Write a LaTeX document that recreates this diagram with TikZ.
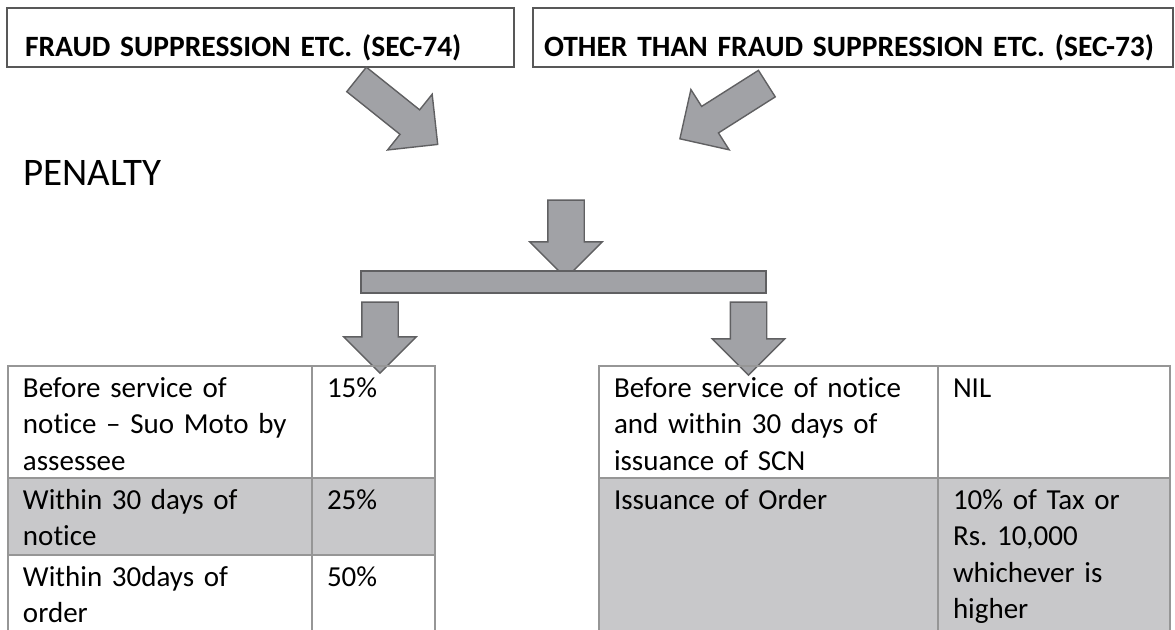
\documentclass[tikz,border=0pt]{standalone}
\usepackage{fontspec}
\setmainfont{Carlito}[WordSpace=0.85,Ligatures=NoCommon]
\frenchspacing
\usetikzlibrary{shapes.arrows}
\definecolor{arrowfill}{RGB}{161,162,166}
\definecolor{arrowline}{RGB}{96,96,98}
\definecolor{boxline}{RGB}{88,88,88}
\definecolor{cellline}{RGB}{150,150,150}
\definecolor{cellshade}{RGB}{200,200,202}
\begin{document}
\begin{tikzpicture}[x=1pt,y=-1pt,head node/.style={draw=boxline, line width=1.6pt, font=\fontsize{29.5}{36}\selectfont\bfseries, align=left, inner xsep=18pt, inner ysep=0pt, minimum height=59pt, text height=37pt, text depth=0pt},block arrow/.style={single arrow, draw=arrowline, fill=arrowfill, line width=1.4pt, inner xsep=0pt, inner ysep=17.5pt, single arrow head extend=18pt},cell/.style={draw=cellline, line width=1.4pt, anchor=north west, outer sep=0pt, align=left, font=\fontsize{29}{36.5}\selectfont, inner xsep=15pt, inner ysep=6pt, text height=25pt},shaded/.style={fill=cellshade}]%
\clip (0,0) rectangle (1175,629);%
  % Headers%
\node[head node, text width=471pt] (fraudHead) at (260.5,37.5) {FRAUD SUPPRESSION ETC. (SEC-74)};%
\node[head node, text width=618pt, inner xsep=11pt] (otherHead) at (853,37.5) {OTHER THAN FRAUD SUPPRESSION ETC. (SEC-73)};%
\node[block arrow, inner ysep=15pt, single arrow head extend=20pt, minimum height=104pt, rotate=-38.7] (fraudArrow) at (391,107) {};%
\node[block arrow, inner ysep=15pt, single arrow head extend=20pt, minimum height=103pt, rotate=-147.6] (otherArrow) at (730,107) {};%
\node[font=\fontsize{39}{47}\selectfont, anchor=base west, inner sep=0pt] (penalty) at (23,185) {PENALTY};%
  % Split%
\node[block arrow, minimum height=78pt, rotate=-90] (penaltyArrow) at (566,230) {};%
\node[draw=arrowline, fill=arrowfill, line width=1.4pt, minimum width=405pt, minimum height=22pt, inner sep=0pt] (splitBar) at (563.5,282) {};%
\node[block arrow, minimum height=71pt, rotate=-90] (fraudDown) at (380,328.5) {};%
\node[block arrow, minimum height=73pt, rotate=-90] (otherDown) at (748.5,329.5) {};%
  % Sec-74 table%
\node[cell, text width=274pt, text depth=75pt] (fraudCase1) at (8,366) {Before service of\\notice -- Suo Moto by\\assessee};%
\node[cell, text width=93pt, text depth=75pt] (fraudRate1) at (fraudCase1.north east) {15\%};%
\node[cell, shaded, text width=274pt, text depth=40pt] (fraudCase2) at (fraudCase1.south west) {Within 30 days of\\notice};%
\node[cell, shaded, text width=93pt, text depth=40pt] (fraudRate2) at (fraudCase2.north east) {25\%};%
\node[cell, text width=274pt, text depth=50pt] (fraudCase3) at (fraudCase2.south west) {Within 30days of\\order};%
\node[cell, text width=93pt, text depth=50pt] (fraudRate3) at (fraudCase3.north east) {50\%};%
  % Sec-73 table%
\node[cell, text width=309pt, text depth=75pt] (otherCase1) at (599,366) {Before service of notice\\and within 30 days of\\issuance of SCN};%
\node[cell, text width=202pt, text depth=75pt] (otherRate1) at (otherCase1.north east) {NIL};%
\node[cell, shaded, text width=309pt, text depth=125pt] (otherCase2) at (otherCase1.south west) {Issuance of Order};%
\node[cell, shaded, text width=202pt, text depth=125pt] (otherRate2) at (otherCase2.north east) {10\% of Tax or\\Rs. 10,000\\whichever is\\higher};%
\end{tikzpicture}
\end{document}
